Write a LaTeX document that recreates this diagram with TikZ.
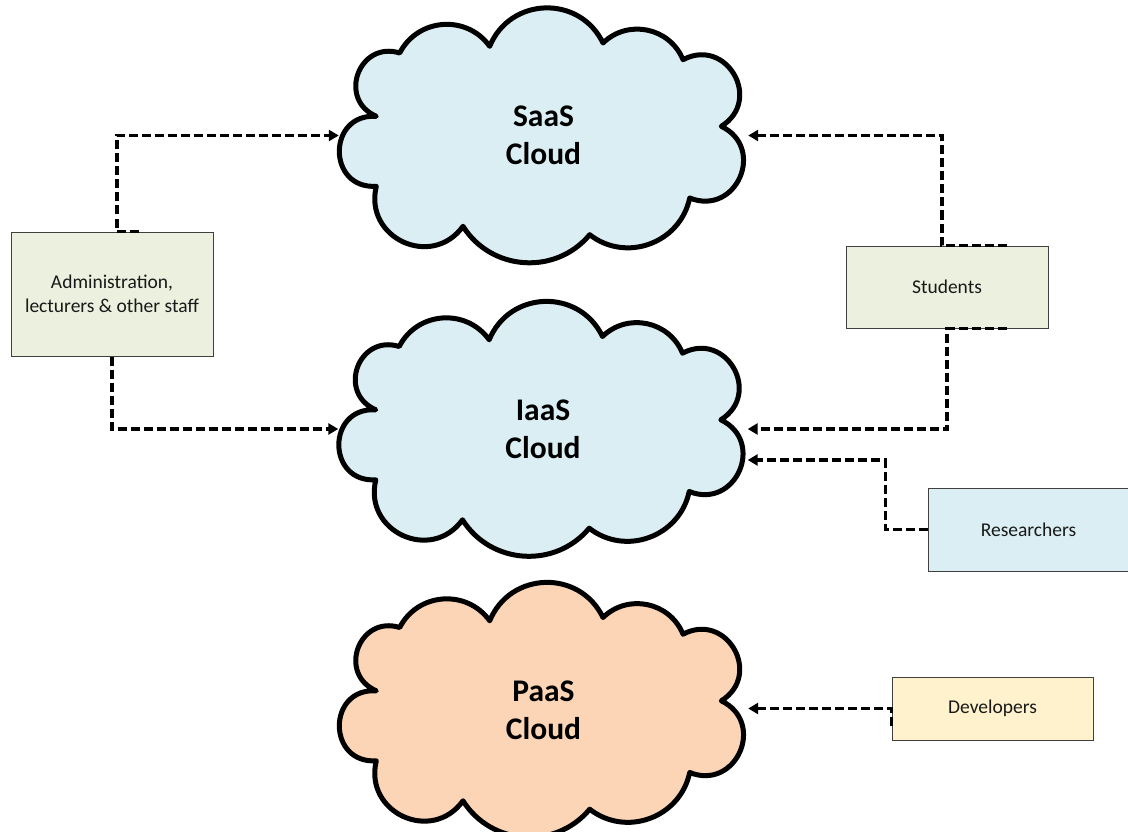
\documentclass[tikz,border=0pt]{standalone}
\usepackage{fontspec}
\setmainfont{Carlito}
\usetikzlibrary{arrows.meta}
\definecolor{cloudblue}{HTML}{DAEEF3}
\definecolor{cloudpeach}{HTML}{FBD5B5}
\definecolor{boxgreen}{HTML}{EBF1DE}
\definecolor{boxblue}{HTML}{DAEEF3}
\definecolor{boxyellow}{HTML}{FFF2CC}
\definecolor{boxline}{HTML}{404040}
\newcommand\drawcloud[2]{%
  \draw[cloudline, fill=#2, shift={(#1)}]
    (-167.2,19.2) to[bend left=87, looseness=1.62] (-143.8,82.5)
    to[bend left=58.5, looseness=1.12] (-53.8,89.2)
    to[bend left=66, looseness=1.21] (59.5,92.5)
    to[bend left=56, looseness=1.09] (139.5,75.8)
    to[bend left=88, looseness=1.64] (177.8,9.2)
    to[bend left=88, looseness=1.64] (146.2,-62.5)
    to[bend left=58, looseness=1.11] (46.2,-99.2)
    to[bend left=54, looseness=1.07] (-80.5,-90.8)
    to[bend left=79, looseness=1.43] (-167.2,-50.8)
    to[bend left=93.5, looseness=1.81] (-167.2,19.2) -- cycle;}
\begin{document}
\begin{tikzpicture}[x=1pt, y=1pt,
  cloudline/.style={line width=5pt, line join=round},
  cloudtext/.style={align=center, font=\fontsize{31.5}{38}\selectfont\bfseries, minimum width=409pt, minimum height=255pt, inner sep=0pt},
  userbox/.style={draw=boxline, line width=1pt, align=center, font=\fontsize{19.5}{24}\selectfont, inner sep=0pt, text=black!90},
  conn/.style={line width=3.3pt, dash pattern=on 9pt off 4pt, -{Triangle[length=10pt,width=11pt]}}]
\useasboundingbox[fill=white] (0,0) rectangle (1128,-832);
% clouds
\coordinate (cs) at (543.5,-135.5);
\coordinate (ci) at (543,-429);
\coordinate (cp) at (543.5,-710);
\drawcloud{cs}{cloudblue}
\drawcloud{ci}{cloudblue}
\drawcloud{cp}{cloudpeach}
\node[cloudtext] (saas) at (cs) {SaaS\\Cloud};
\node[cloudtext] (iaas) at (ci) {IaaS\\Cloud};
\node[cloudtext] (paas) at (cp) {PaaS\\Cloud};
% user boxes
\node[userbox, fill=boxgreen, minimum width=202pt, minimum height=124pt] (admin) at (112,-294) {Administration,\\lecturers \& other staff};
\node[userbox, fill=boxgreen, minimum width=202pt, minimum height=82pt] (students) at (947,-287) {Students};
\node[userbox, fill=boxblue, minimum width=201pt, minimum height=83pt] (researchers) at (1028.5,-529.5) {Researchers};
\node[userbox, fill=boxyellow, minimum width=201pt, minimum height=63pt] (developers) at (992.5,-708.5) {Developers};
% connectors
\draw[conn] ([xshift=27pt]admin.north) -- ([xshift=5pt]admin.north) |- (saas.west);
\draw[conn] (admin.south) |- (iaas.west);
\draw[conn] ([xshift=60pt]students.north) -- ([xshift=-5pt]students.north) |- (saas.east);
\draw[conn] ([xshift=60pt]students.south) -- (students.south) |- (iaas.east);
\draw[conn] (researchers.west) -- ++(-42,0) |- ([yshift=-31pt]iaas.east);
\draw[conn] ([yshift=-17pt]developers.west) -- (developers.west) -- (developers.west -| paas.east);
\end{tikzpicture}
\end{document}
